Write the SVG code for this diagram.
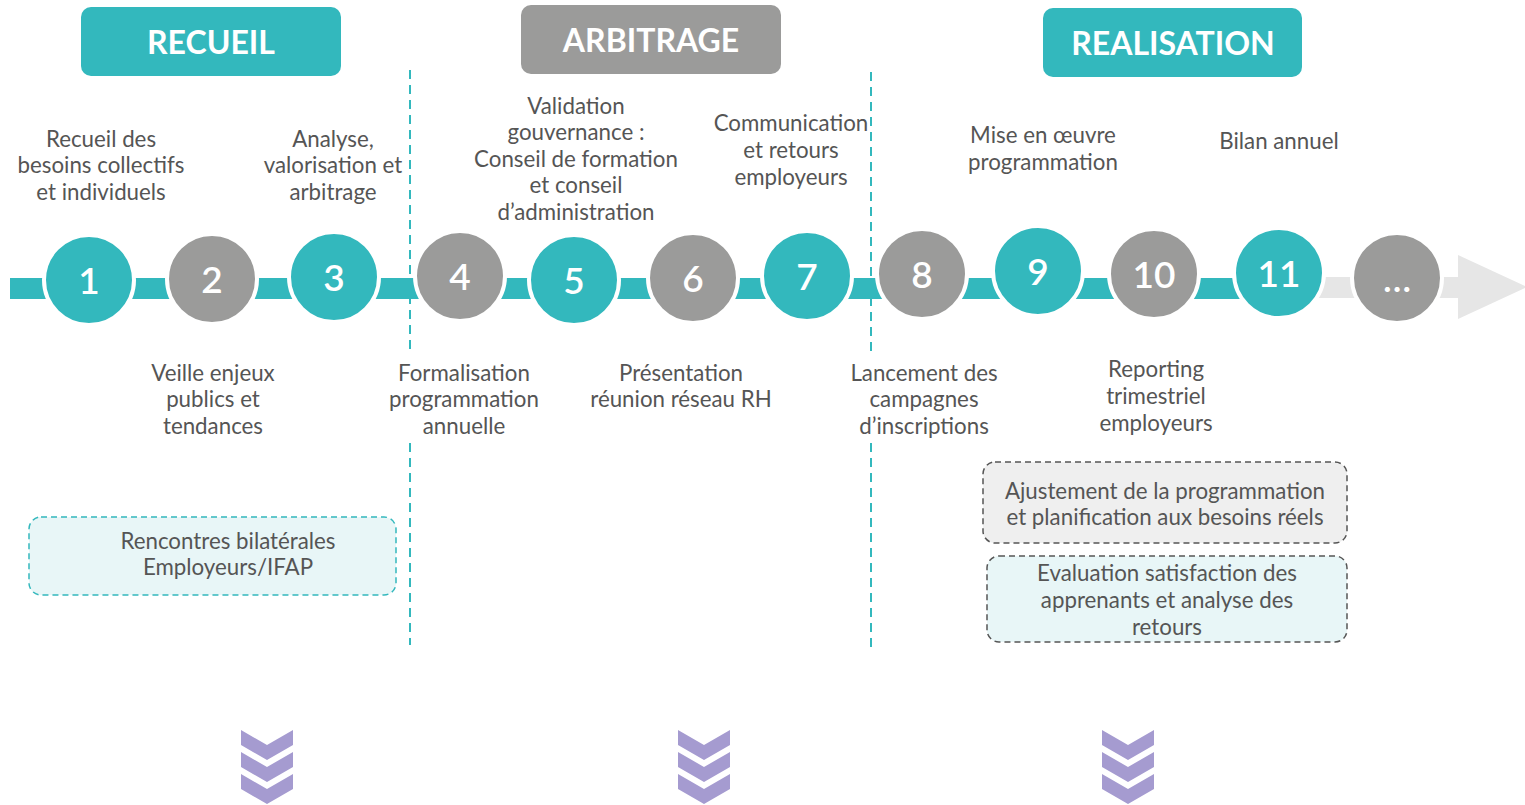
<svg xmlns="http://www.w3.org/2000/svg" width="1525" height="805" viewBox="0 0 1525 805">
<defs>
<style>
.lbl{font-family:Lato,"Liberation Sans",sans-serif;font-size:22.3px;fill:#555;text-anchor:middle}
.hdr{font-family:Lato,"Liberation Sans",sans-serif;font-size:32px;font-weight:700;fill:#fff;text-anchor:middle}
.num{font-family:Lato,"Liberation Sans",sans-serif;font-size:37px;font-weight:600;fill:#fff;text-anchor:middle}
.teal{fill:#33B8BD}
.grey{fill:#9B9B9A}
.circ{stroke:#fff;stroke-width:4}
.vdash{stroke:#33B8BD;stroke-width:2;stroke-dasharray:9 6;fill:none}
.chev{fill:#A59BD0}
</style>
<path id="chev" d="M0,0 L26,15 L52,0 L52,15 L26,30 L0,15 Z"/>
</defs>

<g id="headers">
<g id="h-recueil"><rect x="81" y="7" width="260" height="69" rx="10" class="teal"/><text x="211" y="53.5" class="hdr">RECUEIL</text></g>
<g id="h-arbitrage"><rect x="521" y="5" width="260" height="69" rx="10" class="grey"/><text x="651" y="51.5" class="hdr">ARBITRAGE</text></g>
<g id="h-realisation"><rect x="1043" y="8" width="259" height="69" rx="10" class="teal"/><text x="1173" y="54.5" class="hdr">REALISATION</text></g>
</g>

<g id="connectors">
<rect x="10" y="278" width="1290" height="21" class="teal"/>
<rect x="1290" y="277" width="175" height="21" fill="#E6E6E6"/>
<polygon points="1458,255 1527,287 1458,319" fill="#E6E6E6"/>
<line x1="410" y1="70" x2="410" y2="350" class="vdash"/>
<line x1="410" y1="443" x2="410" y2="645" class="vdash"/>
<line x1="871" y1="72" x2="871" y2="352" class="vdash"/>
<line x1="871" y1="443" x2="871" y2="648" class="vdash"/>
</g>

<g id="n1"><circle cx="89" cy="280" r="45" class="teal circ"/><text x="89" y="294" class="num">1</text></g>
<g id="n2"><circle cx="212" cy="279" r="45" class="grey circ"/><text x="212" y="293" class="num">2</text></g>
<g id="n3"><circle cx="334" cy="277" r="45" class="teal circ"/><text x="334" y="291" class="num">3</text></g>
<g id="n4"><circle cx="460" cy="276" r="45" class="grey circ"/><text x="460" y="290" class="num">4</text></g>
<g id="n5"><circle cx="574" cy="280" r="45" class="teal circ"/><text x="574" y="294" class="num">5</text></g>
<g id="n6"><circle cx="693" cy="278" r="45" class="grey circ"/><text x="693" y="292" class="num">6</text></g>
<g id="n7"><circle cx="807" cy="276" r="45" class="teal circ"/><text x="807" y="290" class="num">7</text></g>
<g id="n8"><circle cx="922" cy="274" r="45" class="grey circ"/><text x="922" y="288" class="num">8</text></g>
<g id="n9"><circle cx="1038" cy="271" r="45" class="teal circ"/><text x="1038" y="285" class="num">9</text></g>
<g id="n10"><circle cx="1154" cy="274" r="45" class="grey circ"/><text x="1154" y="288" class="num">10</text></g>
<g id="n11"><circle cx="1279" cy="273" r="45" class="teal circ"/><text x="1279" y="287" class="num">11</text></g>
<g id="n12"><circle cx="1397" cy="278" r="45" class="grey circ"/><text x="1397" y="292" class="num">…</text></g>

<g id="labels-top">
<text class="lbl"><tspan x="101" y="147">Recueil des</tspan><tspan x="101" y="173">besoins collectifs</tspan><tspan x="101" y="200">et individuels</tspan></text>
<text class="lbl"><tspan x="333" y="147">Analyse,</tspan><tspan x="333" y="173">valorisation et</tspan><tspan x="333" y="200">arbitrage</tspan></text>
<text class="lbl"><tspan x="576" y="114">Validation</tspan><tspan x="576" y="140">gouvernance :</tspan><tspan x="576" y="167">Conseil de formation</tspan><tspan x="576" y="193">et conseil</tspan><tspan x="576" y="220">d’administration</tspan></text>
<text class="lbl"><tspan x="791" y="131">Communication</tspan><tspan x="791" y="158">et retours</tspan><tspan x="791" y="185">employeurs</tspan></text>
<text class="lbl"><tspan x="1043" y="143">Mise en œuvre</tspan><tspan x="1043" y="170">programmation</tspan></text>
<text class="lbl"><tspan x="1279" y="149">Bilan annuel</tspan></text>
</g>

<g id="labels-bottom">
<text class="lbl"><tspan x="213" y="381">Veille enjeux</tspan><tspan x="213" y="407">publics et</tspan><tspan x="213" y="434">tendances</tspan></text>
<text class="lbl"><tspan x="464" y="381">Formalisation</tspan><tspan x="464" y="407">programmation</tspan><tspan x="464" y="434">annuelle</tspan></text>
<text class="lbl"><tspan x="681" y="381">Présentation</tspan><tspan x="681" y="407">réunion réseau RH</tspan></text>
<text class="lbl"><tspan x="924" y="381">Lancement des</tspan><tspan x="924" y="407">campagnes</tspan><tspan x="924" y="434">d’inscriptions</tspan></text>
<text class="lbl"><tspan x="1156" y="377">Reporting</tspan><tspan x="1156" y="404">trimestriel</tspan><tspan x="1156" y="431">employeurs</tspan></text>
</g>

<g id="box-rencontres">
<rect x="29" y="517" width="367" height="78" rx="12" fill="#E8F6F7" stroke="#33B8BD" stroke-width="1.5" stroke-dasharray="6 4"/>
<text class="lbl"><tspan x="228" y="549">Rencontres bilatérales</tspan><tspan x="228" y="575">Employeurs/IFAP</tspan></text>
</g>
<g id="box-ajustement">
<rect x="983" y="462" width="364" height="81" rx="12" fill="#EFEFEF" stroke="#555" stroke-width="1.5" stroke-dasharray="6 4"/>
<text class="lbl"><tspan x="1165" y="499">Ajustement de la programmation</tspan><tspan x="1165" y="525">et planification aux besoins réels</tspan></text>
</g>
<g id="box-evaluation">
<rect x="987" y="556" width="360" height="86" rx="12" fill="#E8F6F7" stroke="#555" stroke-width="1.5" stroke-dasharray="6 4"/>
<text class="lbl"><tspan x="1167" y="581">Evaluation satisfaction des</tspan><tspan x="1167" y="608">apprenants et analyse des</tspan><tspan x="1167" y="635">retours</tspan></text>
</g>

<g id="chevrons">
<g transform="translate(241,730)" class="chev"><use href="#chev"/><use href="#chev" y="22"/><use href="#chev" y="44"/></g>
<g transform="translate(678,730)" class="chev"><use href="#chev"/><use href="#chev" y="22"/><use href="#chev" y="44"/></g>
<g transform="translate(1102,730)" class="chev"><use href="#chev"/><use href="#chev" y="22"/><use href="#chev" y="44"/></g>
</g>
</svg>
